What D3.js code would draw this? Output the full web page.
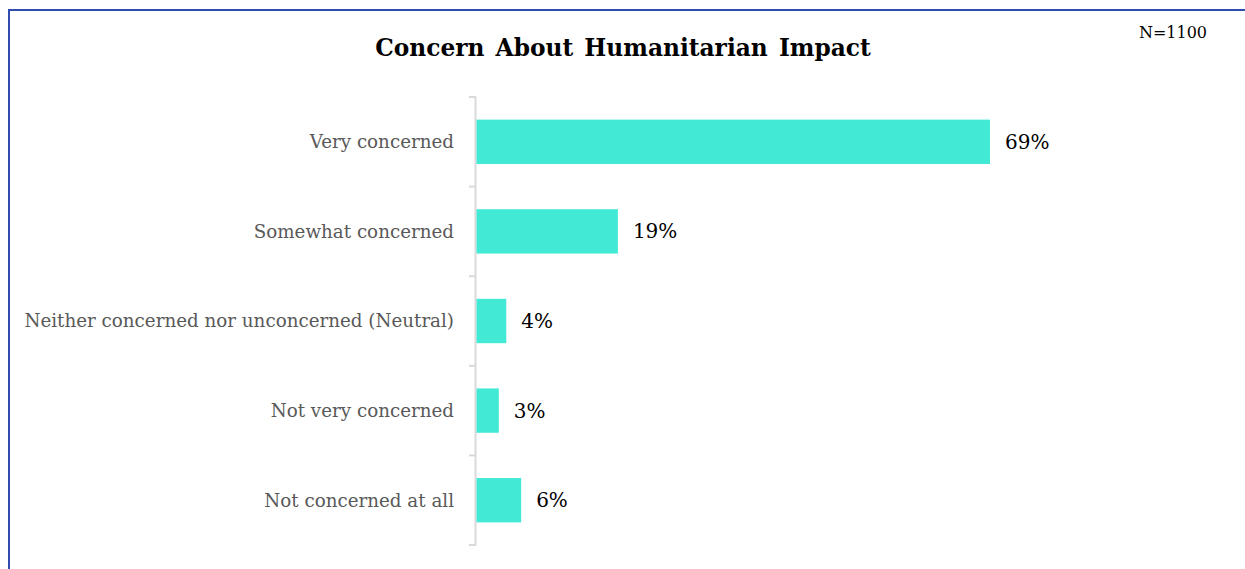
<!DOCTYPE html>
<html>
<head>
<meta charset="utf-8">
<script src="https://cdn.jsdelivr.net/npm/d3@7"></script>
<style>
  html, body { margin: 0; padding: 0; background: #ffffff; }
  svg { display: block; }
</style>
</head>
<body>
<svg id="chart" width="1245" height="569"></svg>
<script>
// Survey responses, top to bottom
const categories = [
  "Very concerned",
  "Somewhat concerned",
  "Neither concerned nor unconcerned (Neutral)",
  "Not very concerned",
  "Not concerned at all"
];
const values = [69, 19, 4, 3, 6];
const chartTitle = "Concern About Humanitarian Impact";
const sampleNote = "N=1100";

const W = 1245, H = 569;
const svg = d3.select("#chart");
const serif = "Georgia, 'DejaVu Serif', 'Liberation Serif', serif";

// Frame: blue rule along the top and left edges
svg.append("line").attr("x1", 8).attr("y1", 10).attr("x2", W).attr("y2", 10)
  .attr("stroke", "#2f4cae").attr("stroke-width", 2);
svg.append("line").attr("x1", 9).attr("y1", 9).attr("x2", 9).attr("y2", H)
  .attr("stroke", "#2f4cae").attr("stroke-width", 2);

// Title and sample size
svg.append("text")
  .attr("x", 623).attr("y", 56)
  .attr("text-anchor", "middle")
  .attr("font-family", serif)
  .attr("font-weight", "bold")
  .attr("font-size", 23.3)
  .attr("word-spacing", 3)
  .attr("fill", "#000")
  .text(chartTitle);

svg.append("text")
  .attr("x", 1207).attr("y", 38)
  .attr("text-anchor", "end")
  .attr("font-family", serif)
  .attr("font-size", 16)
  .attr("fill", "#000")
  .text(sampleNote);

// Scales
const x = d3.scaleLinear().domain([0, 69]).range([476.5, 990]);
const y = d3.scaleBand().domain(categories).range([97, 545]).paddingInner(0.505).paddingOuter(0.2525);

// Category axis: light gray spine with ticks at band boundaries
const axisG = svg.append("g");
axisG.append("line")
  .attr("x1", 475.5).attr("x2", 475.5)
  .attr("y1", y.range()[0]).attr("y2", y.range()[1])
  .attr("stroke", "#d9d9d9").attr("stroke-width", 2);

const step = y.step();
const boundaries = d3.range(categories.length + 1).map(i => y.range()[0] + i * step);
axisG.selectAll("line.tick").data(boundaries).join("line")
  .attr("class", "tick")
  .attr("x1", 469).attr("x2", 476)
  .attr("y1", d => d).attr("y2", d => d)
  .attr("stroke", "#d9d9d9").attr("stroke-width", 2);

// Category labels
svg.selectAll("text.cat").data(categories).join("text")
  .attr("class", "cat")
  .attr("x", 454)
  .attr("y", d => y(d) + y.bandwidth() / 2)
  .attr("dy", "0.35em")
  .attr("text-anchor", "end")
  .attr("font-family", serif)
  .attr("font-size", 18.3)
  .attr("fill", "#595959")
  .text(d => d);

// Bars
svg.selectAll("rect.bar").data(values).join("rect")
  .attr("class", "bar")
  .attr("x", x(0))
  .attr("y", (d, i) => y(categories[i]))
  .attr("width", d => x(d) - x(0))
  .attr("height", y.bandwidth())
  .attr("fill", "#42ead6");

// Value labels
svg.selectAll("text.val").data(values).join("text")
  .attr("class", "val")
  .attr("x", d => x(d) + 15)
  .attr("y", (d, i) => y(categories[i]) + y.bandwidth() / 2)
  .attr("dy", "0.35em")
  .attr("font-family", serif)
  .attr("font-size", 20)
  .attr("fill", "#000")
  .text(d => d + "%");
</script>
</body>
</html>
